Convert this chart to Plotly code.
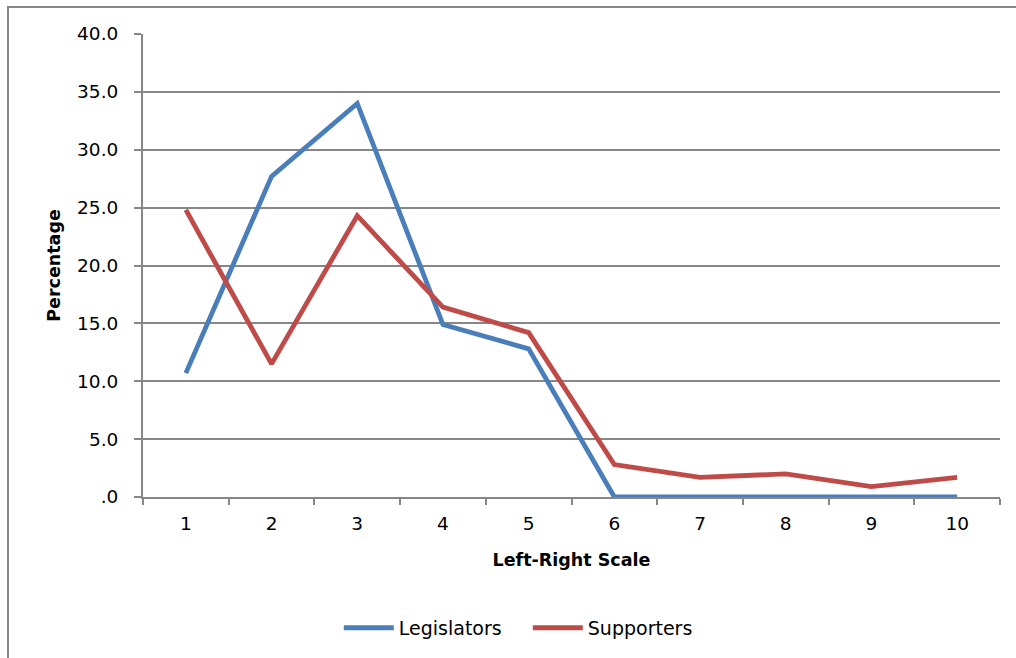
import plotly.graph_objects as go

# Left-right self placement (percent of respondents)
scale_points = ["1", "2", "3", "4", "5", "6", "7", "8", "9", "10"]
legislators = [10.7, 27.7, 34.0, 14.9, 12.8, 0.0, 0.0, 0.0, 0.0, 0.0]
supporters = [24.8, 11.5, 24.3, 16.4, 14.2, 2.8, 1.7, 2.0, 0.9, 1.7]

y_tick_values = [0, 5, 10, 15, 20, 25, 30, 35, 40]
y_tick_labels = [".0", "5.0", "10.0", "15.0", "20.0", "25.0", "30.0", "35.0", "40.0"]

FONT = "DejaVu Sans"
GRID = "#878787"

fig = go.Figure()
fig.add_trace(go.Scatter(
    x=scale_points, y=legislators, name="Legislators", mode="lines",
    line=dict(color="#4A7EBB", width=4.8),
))
fig.add_trace(go.Scatter(
    x=scale_points, y=supporters, name="Supporters", mode="lines",
    line=dict(color="#BE4B48", width=4.8),
))

fig.update_layout(
    width=1016, height=658,
    margin=dict(l=143, r=16, t=34, b=160),
    paper_bgcolor="white", plot_bgcolor="white",
    font=dict(family=FONT, size=18.5, color="black"),
    showlegend=True,
    legend=dict(
        orientation="h", x=0.449, xanchor="center", y=-0.28, yanchor="middle",
        font=dict(family=FONT, size=19), itemwidth=50, traceorder="normal",
        entrywidth=124, entrywidthmode="pixels",
    ),
)

fig.update_xaxes(
    type="category", range=[-0.5, 9.5],
    showline=True, linecolor=GRID, linewidth=2,
    ticks="outside", tickson="boundaries", ticklen=6, tickcolor=GRID, tickwidth=2,
    showgrid=False, ticklabelstandoff=9,
    title=dict(text="<b>Left-Right Scale</b>", font=dict(family=FONT, size=17.5), standoff=21),
)
fig.update_yaxes(
    range=[0, 40], tickvals=y_tick_values, ticktext=y_tick_labels,
    showline=True, linecolor=GRID, linewidth=2,
    ticks="outside", ticklen=7, tickcolor=GRID, tickwidth=2,
    showgrid=True, gridcolor=GRID, gridwidth=1.5, zeroline=False,
    ticklabelstandoff=12,
    title=dict(text="<b>Percentage</b>", font=dict(family=FONT, size=17.5), standoff=12),
)

# Outer chart frame
fig.add_shape(
    type="rect", xref="paper", yref="paper",
    x0=(8 - 143) / 857, x1=1.2, y0=-0.5, y1=(498 - 7) / 464,
    line=dict(color=GRID, width=2), fillcolor="rgba(0,0,0,0)", layer="below",
)

fig.write_html("out.html")
